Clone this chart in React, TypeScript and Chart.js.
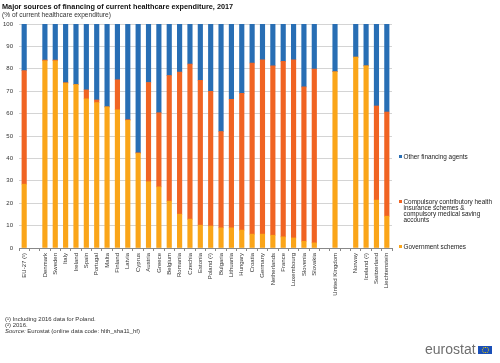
import React, { useEffect, useRef } from "react";
import { Chart, registerables } from "chart.js";

Chart.register(...registerables);

const categories = [
  "EU-27 (¹)", " ", "Denmark", "Sweden", "Italy", "Ireland", "Spain", "Portugal", "Malta",
  "Finland", "Latvia", "Cyprus", "Austria", "Greece", "Belgium", "Romania", "Czechia",
  "Estonia", "Poland (²)", "Bulgaria", "Lithuania", "Hungary", "Croatia", "Germany",
  "Netherlands", "France", "Luxembourg", "Slovenia", "Slovakia", "  ", "United Kingdom",
  "   ", "Norway", "Iceland (²)", "Switzerland", "Liechtenstein",
];

const governmentSchemes = [
  28.5, null, 83.6, 83.6, 73.6, 73.0, 66.6, 64.9, 63.0, 61.7, 57.0, 42.3, 29.6, 27.3, 20.9,
  15.1, 12.9, 10.2, 9.8, 9.0, 9.0, 8.0, 6.2, 6.2, 5.7, 5.0, 4.5, 3.0, 2.3, null, 78.7, null,
  85.2, 81.3, 21.4, 14.2,
];

const compulsorySchemes = [
  50.7, null, 0.3, 0.3, 0.2, 0, 4.0, 1.2, 0, 13.4, 0.3, 0.2, 44.3, 33.1, 56.1, 63.4, 69.2,
  64.7, 60.1, 43.0, 57.4, 61.0, 76.4, 77.8, 75.6, 78.3, 79.5, 68.9, 77.6, null, 0, null, 0,
  0, 42.0, 46.5,
];

const otherAgents = [
  20.8, null, 16.1, 16.1, 26.2, 27.0, 29.4, 33.9, 37.0, 24.9, 42.7, 57.5, 26.1, 39.6, 23.0,
  21.5, 17.9, 25.1, 30.1, 48.0, 33.6, 31.0, 17.4, 16.0, 18.7, 16.7, 16.0, 28.1, 20.1, null,
  21.3, null, 14.8, 18.7, 36.6, 39.3,
];

const yTicks = [0, 10, 20, 30, 40, 50, 60, 70, 80, 90, 100];

const BLUE = "#286EB4";
const ORANGE = "#F06423";
const YELLOW = "#FAA519";
const FONT = "'Liberation Sans', Arial, sans-serif";

export default function App() {
  const canvasRef = useRef<HTMLCanvasElement | null>(null);

  useEffect(() => {
    if (!canvasRef.current) return;
    const chart = new Chart(canvasRef.current, {
      type: "bar",
      data: {
        labels: categories,
        datasets: [
          { label: "Government schemes", data: governmentSchemes, backgroundColor: YELLOW, barThickness: 4.5 },
          {
            label: "Compulsory contributory health insurance schemes & compulsory medical saving accounts",
            data: compulsorySchemes,
            backgroundColor: ORANGE,
            barThickness: 4.5,
          },
          { label: "Other financing agents", data: otherAgents, backgroundColor: BLUE, barThickness: 4.5 },
        ],
      },
      options: {
        animation: false,
        responsive: false,
        maintainAspectRatio: false,
        layout: { padding: { left: 0, right: 108, top: 24, bottom: 55 } },
        plugins: { legend: { display: false }, tooltip: { enabled: false }, title: { display: false } },
        scales: {
          x: {
            stacked: true,
            ticks: {
              autoSkip: false,
              minRotation: 90,
              maxRotation: 90,
              padding: 2,
              color: "#333",
              font: { family: FONT, size: 6 },
            },
            grid: { drawOnChartArea: false, tickLength: 3, offset: true, color: "#888" },
            border: { display: true, color: "#888" },
            afterFit: (s: any) => {
              s.height = 60;
            },
          },
          y: {
            stacked: true,
            min: 0,
            max: 100,
            afterBuildTicks: (s: any) => {
              s.ticks = yTicks.map((v) => ({ value: v }));
            },
            ticks: { color: "#333", padding: 6, font: { family: FONT, size: 6 } },
            grid: { drawTicks: false, color: "#d4d4d4" },
            border: { display: false },
            afterFit: (s: any) => {
              s.width = 19;
            },
          },
        },
      },
    });
    return () => chart.destroy();
  }, []);

  const legendItem = (color: string, top: number, content: React.ReactNode) => (
    <div style={{ position: "absolute", left: 399, top, fontSize: 6.4, lineHeight: "6.3px", color: "#222" }}>
      <span
        style={{ position: "absolute", left: 0, top: 1.7, width: 3, height: 3, background: color }}
      />
      <div style={{ marginLeft: 4.5 }}>{content}</div>
    </div>
  );

  return (
    <div
      style={{
        position: "fixed",
        left: 0,
        top: 0,
        width: 500,
        height: 363,
        background: "#fff",
        fontFamily: FONT,
        overflow: "hidden",
      }}
    >
      <canvas ref={canvasRef} width={500} height={363} style={{ position: "absolute", left: 0, top: 0 }} />
      <div style={{ position: "absolute", left: 2, top: 1.5, fontSize: 7.3, fontWeight: "bold", color: "#111", whiteSpace: "nowrap" }}>
        Major sources of financing of current healthcare expenditure, 2017
      </div>
      <div style={{ position: "absolute", left: 2, top: 10.5, fontSize: 6.6, color: "#333", whiteSpace: "nowrap" }}>
        (% of current healthcare expenditure)
      </div>
      {legendItem(BLUE, 153.8, "Other financing agents")}
      {legendItem(
        ORANGE,
        198.6,
        <>
          Compulsory contributory health
          <br />
          insurance schemes &amp;
          <br />
          compulsory medical saving
          <br />
          accounts
        </>
      )}
      {legendItem(YELLOW, 243.6, "Government schemes")}
      <div style={{ position: "absolute", left: 5, top: 316, fontSize: 6, lineHeight: "6px", color: "#333", whiteSpace: "nowrap" }}>
        <div>(¹) Including 2016 data for Poland.</div>
        <div>(²) 2016.</div>
        <div>
          <i>Source:</i> Eurostat (online data code: hlth_sha11_hf)
        </div>
      </div>
      <div style={{ position: "absolute", left: 425, top: 341, fontSize: 14, color: "#6e6e6e", whiteSpace: "nowrap", lineHeight: "16px" }}>
        eurostat
      </div>
      <div style={{ position: "absolute", left: 478, top: 345.5, width: 14, height: 8, background: "#1a4fb8" }}>
        <div
          style={{
            position: "absolute",
            left: 4,
            top: 1,
            width: 4.5,
            height: 4.5,
            borderRadius: "50%",
            border: "0.8px dotted #f5d300",
          }}
        />
      </div>
    </div>
  );
}
